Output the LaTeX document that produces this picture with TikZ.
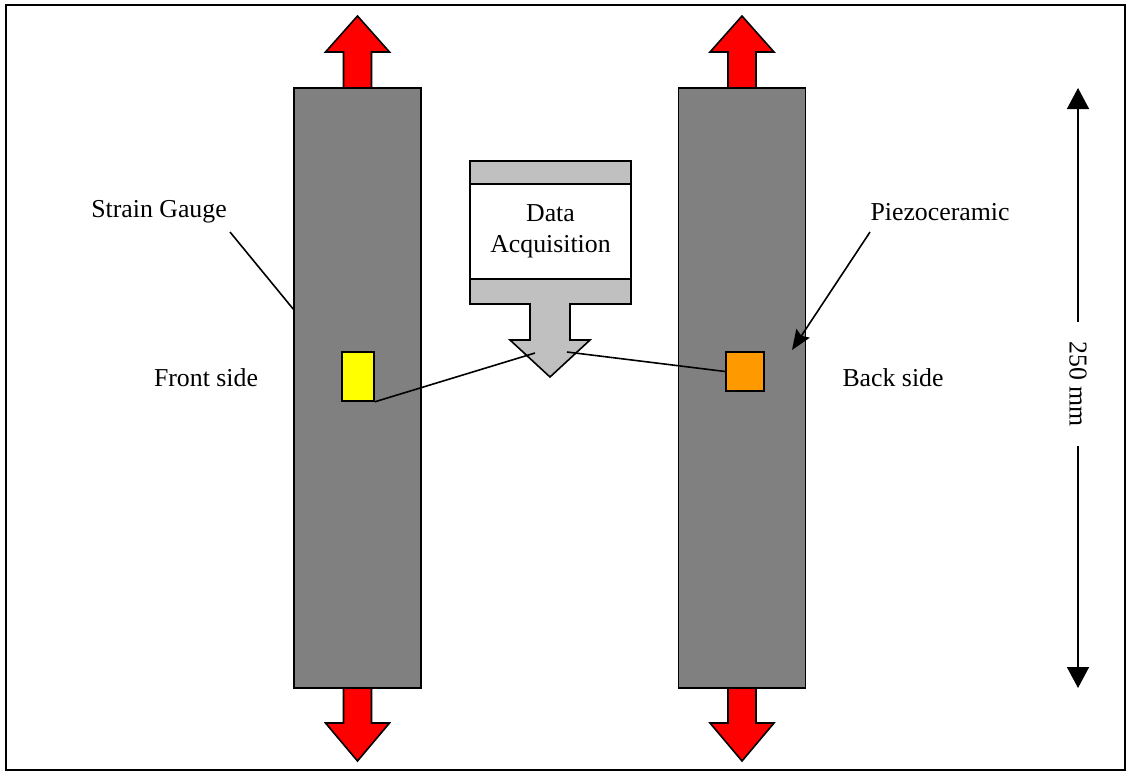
\documentclass[tikz,border=0pt]{standalone}
\usepackage{fontspec}
\setmainfont{Liberation Serif}
\usepackage{tikz}
\usetikzlibrary{arrows.meta,positioning,calc}
\definecolor{bargray}{RGB}{128,128,128}
\definecolor{daqgray}{RGB}{192,192,192}
\definecolor{sgyellow}{RGB}{255,255,0}
\definecolor{pzorange}{RGB}{255,153,0}
\definecolor{pullred}{RGB}{255,0,0}

\begin{document}
\begin{tikzpicture}[
  x=0.5pt, y=-0.5pt,
  font=\fontsize{12.9}{15.5}\selectfont,
  line width=0.8pt,
  every node/.style={align=center},
  bar/.style     = {draw, fill=bargray, minimum width=63.5pt, minimum height=300pt, inner sep=0pt},
  pull/.style    = {draw, fill=pullred, line join=miter},
  sensor/.style  = {draw, inner sep=0pt},
  daqbox/.style  = {draw, fill=white, minimum width=80.5pt, minimum height=47.5pt, inner sep=0pt},
  lab/.style     = {inner sep=1pt}
]
\useasboundingbox (0,0) rectangle (1128,772);
\draw[line width=1pt] (6,5) rectangle (1125,770);

% specimens
\node[bar] (barL) at (357.5, 388) {};
\node[bar] (barR) at (742, 388) {};

% load arrows
\foreach \cx in {357.5, 742} {
  \draw[pull] (\cx,16) -- (\cx+32,52) -- (\cx+14,52) -- (\cx+14,88)
    -- (\cx-14,88) -- (\cx-14,52) -- (\cx-32,52) -- cycle;
  \draw[pull] (\cx,761) -- (\cx+32,723) -- (\cx+14,723) -- (\cx+14,688)
    -- (\cx-14,688) -- (\cx-14,723) -- (\cx-32,723) -- cycle;
}

% data acquisition
\draw[fill=daqgray, line join=miter] (470,161) -- (631,161) -- (631,304) -- (570,304)
  -- (570,340) -- (590,340) -- (550,377) -- (510,340) -- (530,340) -- (530,304)
  -- (470,304) -- cycle;
\node[daqbox] (daq) at (550.5, 231.5) {Data\\Acquisition};
\coordinate (daqL) at (535, 353);
\coordinate (daqR) at (567, 352);

% sensors
\node[sensor, fill=sgyellow, minimum width=16pt, minimum height=24.5pt] (sg) at (358, 376.5) {};
\node[sensor, fill=pzorange, minimum width=19pt, minimum height=19.5pt] (pz) at (745, 371.5) {};
\draw (sg.south east) -- (daqL);
\draw (pz.west) -- (daqR);

% labels
\node[lab] (sglab) at (159, 212) {Strain Gauge};
\node[lab] (pzlab) at (940, 212) {Piezoceramic};
\node[lab] (front) at (206, 378) {Front side};
\node[lab] (back) at (893, 378) {Back side};
\coordinate (sgfrom) at (230, 232);
\coordinate (sgto) at (294, 310);
\draw (sgfrom) -- (sgto);
\coordinate (pzfrom) at (870, 232);
\coordinate (pzto) at (792, 350);
\draw[-{Stealth[length=10pt, width=8pt, inset=1.5pt]}] (pzfrom) -- (pzto);

% dimension
\node[rotate=-90, inner xsep=9.5pt, inner ysep=0pt] (dim) at (1078, 384) {250 mm};
\coordinate (dimtop) at (1078, 88);
\coordinate (dimbot) at (1078, 688);
\draw[-{Triangle[length=10.5pt, width=11pt]}] (dim.west) -- (dimtop);
\draw[-{Triangle[length=10.5pt, width=11pt]}] (dim.east) -- (dimbot);
\end{tikzpicture}
\end{document}
